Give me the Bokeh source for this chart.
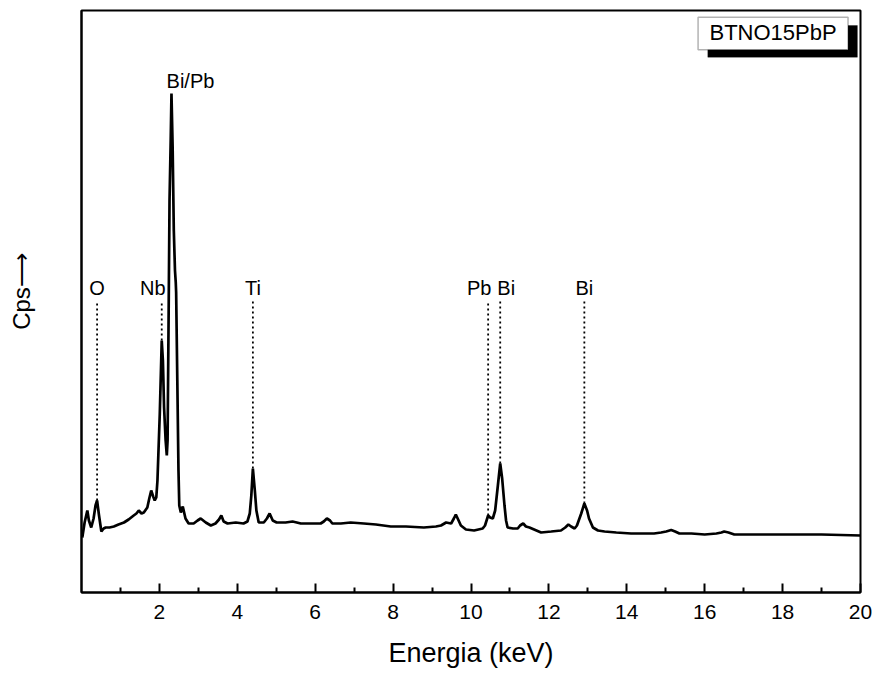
import numpy as np
from bokeh.plotting import figure
from bokeh.models import Range1d, FixedTicker, BoxAnnotation, Label, ColumnDataSource
from bokeh.core.properties import value
from bokeh.embed import file_html
from bokeh.resources import INLINE

# EDS spectrum (energy in keV, counts in arbitrary units)
energy = [0.02, 0.08, 0.15, 0.19, 0.25, 0.31, 0.36, 0.40, 0.45, 0.51, 0.57, 0.62, 0.72, 0.83,
          0.95, 1.09, 1.21, 1.34, 1.41, 1.47, 1.54, 1.60, 1.69, 1.74, 1.79, 1.84, 1.88, 1.92,
          1.95, 2.01, 2.06, 2.09, 2.12, 2.16, 2.19, 2.21, 2.24, 2.26, 2.29, 2.31, 2.34, 2.37,
          2.40, 2.42, 2.43, 2.46, 2.49, 2.51, 2.55, 2.60, 2.67, 2.75, 2.88, 2.98, 3.06, 3.19,
          3.32, 3.44, 3.53, 3.59, 3.65, 3.75, 3.96, 4.16, 4.26, 4.32, 4.36, 4.40, 4.45, 4.49,
          4.55, 4.68, 4.76, 4.83, 4.91, 5.01, 5.24, 5.42, 5.63, 5.89, 6.14, 6.22, 6.30, 6.38,
          6.44, 6.66, 6.91, 7.25, 7.56, 7.94, 8.33, 8.79, 9.10, 9.23, 9.36, 9.49, 9.56, 9.61,
          9.67, 9.74, 9.87, 10.08, 10.30, 10.36, 10.44, 10.49, 10.56, 10.62, 10.69, 10.75,
          10.80, 10.86, 10.90, 10.94, 11.08, 11.20, 11.26, 11.34, 11.41, 11.50, 11.62, 11.80,
          12.06, 12.31, 12.42, 12.50, 12.57, 12.66, 12.72, 12.83, 12.91, 12.98, 13.03, 13.13,
          13.26, 13.43, 13.73, 14.11, 14.37, 14.70, 14.88, 15.01, 15.14, 15.24, 15.35, 15.66,
          16.00, 16.30, 16.43, 16.50, 16.61, 16.76, 17.46, 18.15, 19.00, 20.00]
counts = [55, 70, 82, 72, 65, 74, 87, 92, 77, 61, 64, 65, 65, 66,
          68, 70, 73, 77, 79, 82, 79, 80, 85, 94, 102, 96, 92, 95,
          112, 179, 252, 232, 185, 152, 137, 152, 292, 392, 452, 499, 445, 362,
          322, 310, 300, 212, 122, 87, 80, 86, 74, 69, 69, 72, 74, 70,
          67, 69, 73, 77, 71, 69, 70, 69, 71, 79, 97, 124, 102, 82,
          70, 70, 74, 79, 72, 70, 70, 71, 69, 69, 69, 71, 74, 72,
          69, 69, 70, 69, 68, 66, 66, 65, 66, 67, 70, 69, 74, 78,
          73, 67, 63, 62, 64, 67, 77, 75, 74, 82, 107, 129,
          114, 87, 72, 65, 64, 64, 67, 69, 66, 65, 63, 60,
          61, 62, 65, 68, 66, 64, 67, 79, 89, 82, 74, 65,
          62, 61, 60, 59, 59, 59, 60, 61, 62.5, 61, 59, 59,
          58, 59, 60, 61, 60, 58, 58, 58, 58, 57]

# Element marker lines
line_names = ["O", "Nb", "Ti", "Pb", "Bi", "Bi"]
line_energy = [0.40, 2.06, 4.40, 10.44, 10.75, 12.91]
main_peak_label = "Bi/Pb"
sample_name = "BTNO15PbP"

# x ticks
x_major = [2, 4, 6, 8, 10, 12, 14, 16, 18, 20]
x_minor = [1, 3, 5, 7, 9, 11, 13, 15, 17, 19]

FONT = "Liberation Sans"

p = figure(width=877, height=675, output_backend="svg", toolbar_location=None,
           x_range=Range1d(0, 20), y_range=Range1d(0, 582),
           min_border_left=81, min_border_right=17, min_border_top=10, min_border_bottom=83)
p.grid.visible = False
p.background_fill_color = "white"
p.border_fill_color = "white"
p.outline_line_color = "black"
p.outline_line_width = 2

# x axis
xa = p.xaxis[0]
xa.ticker = FixedTicker(ticks=x_major, minor_ticks=x_minor)
xa.axis_line_width = 2
xa.major_tick_in = 9
xa.major_tick_out = 0
xa.minor_tick_in = 5
xa.minor_tick_out = 0
xa.major_tick_line_width = 2
xa.minor_tick_line_width = 2
xa.major_label_text_font = FONT
xa.major_label_text_font_size = "21px"
xa.major_label_text_color = "black"
xa.major_label_standoff = 12
xa.axis_label = "Energia (keV)"
xa.axis_label_text_font = FONT
xa.axis_label_text_font_size = "27px"
xa.axis_label_text_font_style = "normal"
xa.axis_label_text_color = "black"
xa.axis_label_standoff = 16

# y axis: line only plus title
ya = p.yaxis[0]
ya.ticker = FixedTicker(ticks=[])
ya.axis_line_width = 2
ya.major_tick_line_color = None
ya.minor_tick_line_color = None
ya.axis_label = "\u00a0\u00a0\u00a0Cps\u27F6"
ya.axis_label_text_font = FONT
ya.axis_label_text_font_size = "24px"
ya.axis_label_text_font_style = "normal"
ya.axis_label_text_color = "black"
ya.axis_label_standoff = 47

# spectrum
p.line(energy, counts, line_color="black", line_width=2.7)

# dotted marker lines and labels
label_level = 292
peak_tops = np.interp(line_energy, energy, counts)
p.segment(x0=line_energy, y0=peak_tops, x1=line_energy, y1=[label_level] * len(line_energy),
          line_color="black", line_width=1.8, line_dash="2 3")
offsets = [0, -9, 0, -9, 6, 0]
src = ColumnDataSource(dict(x=line_energy, y=[label_level] * len(line_energy),
                            t=line_names, dx=offsets))
p.text(x="x", y="y", text="t", x_offset="dx", y_offset=-13, source=src, text_align="center",
       text_baseline="alphabetic", text_font=value(FONT), text_font_size="20px",
       text_color="black")

imax = int(np.argmax(counts))
p.add_layout(Label(x=energy[imax], y=counts[imax], text=main_peak_label, x_offset=19, y_offset=13,
                   text_align="center", text_baseline="alphabetic", text_font=FONT,
                   text_font_size="20px", text_color="black"))

# sample name box with shadow
p.add_layout(BoxAnnotation(left=16.08, right=19.92, bottom=535.3, top=567,
                           fill_color="black", fill_alpha=1, line_color="black"))
p.add_layout(BoxAnnotation(left=15.83, right=19.68, bottom=542.7, top=575.3,
                           fill_color="white", fill_alpha=1, line_color="black", line_width=1.5))
p.add_layout(Label(x=17.755, y=560, text=sample_name, text_align="center",
                   text_baseline="alphabetic", text_font=FONT, text_font_size="22px",
                   text_color="black"))

open("out.html", "w").write(file_html(p, INLINE))
